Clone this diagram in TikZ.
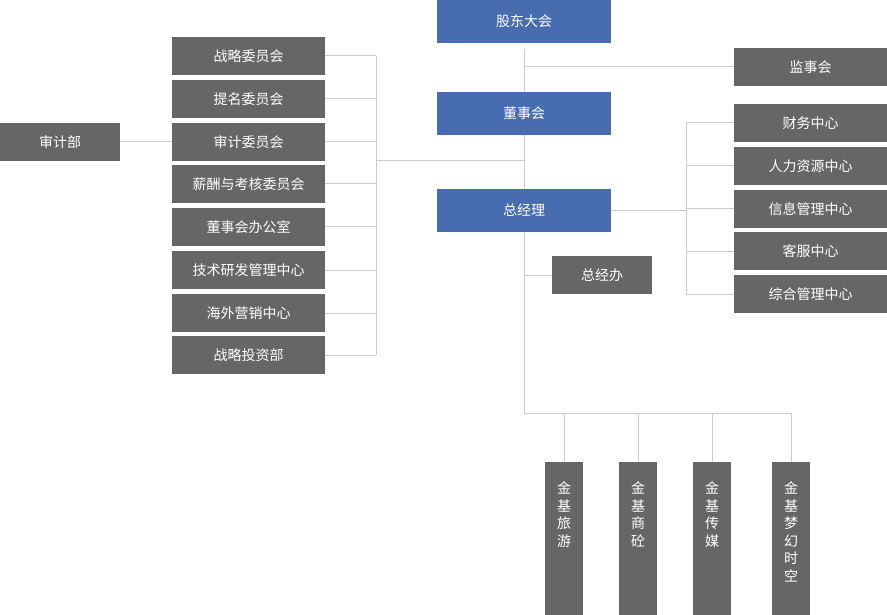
\documentclass[tikz,border=0pt]{standalone}
\usepackage{fontspec}
\usepackage{tikz}
\usetikzlibrary{positioning}
\newfontfamily\cjk{Noto Sans CJK SC}

\definecolor{boxgrey}{HTML}{666666}
\definecolor{boxblue}{HTML}{476CAF}
\definecolor{linkgrey}{HTML}{CCCCCC}

\tikzset{
  unit/.style={inner sep=0pt, outer sep=0pt, text=white,
    font=\cjk\fontsize{14}{17.5}\selectfont},
  bluebox/.style={unit, fill=boxblue, minimum width=174pt, minimum height=43pt},
  greybox/.style={unit, fill=boxgrey, minimum width=153pt, minimum height=37.5pt},
  subbox/.style={unit, fill=boxgrey, minimum width=38pt, minimum height=153pt, anchor=north},
  vtext/.style={unit, text width=14pt, align=center, anchor=north},
  link/.style={draw=linkgrey, line width=1pt}
}

\begin{document}
\begin{tikzpicture}[x=1pt,y=-1pt]
  \useasboundingbox (0,0) rectangle (887,615);

  % Main line
  \node[bluebox] (gd)  at (524,21.3)  {股东大会};
  \node[bluebox] (dsh) at (524,113.3) {董事会};
  \node[bluebox] (zjl) at (524,210.3) {总经理};

  % Supervisors
  \node[greybox] (jsh) at (810.5,67) {监事会};

  % Board committees
  \node[greybox] (wy1) at (248.5,56)  {战略委员会};
  \node[greybox] (wy2) at (248.5,99)  {提名委员会};
  \node[greybox] (wy3) at (248.5,142) {审计委员会};
  \node[greybox] (wy4) at (248.5,184) {薪酬与考核委员会};
  \node[greybox] (wy5) at (248.5,227) {董事会办公室};
  \node[greybox] (wy6) at (248.5,270) {技术研发管理中心};
  \node[greybox] (wy7) at (248.5,313) {海外营销中心};
  \node[greybox] (wy8) at (248.5,355) {战略投资部};
  \node[greybox, minimum width=120pt] (sjb) at (60,142) {审计部};

  % Centres under the general manager
  \node[greybox] (zx1) at (810.5,123) {财务中心};
  \node[greybox] (zx2) at (810.5,166) {人力资源中心};
  \node[greybox] (zx3) at (810.5,209) {信息管理中心};
  \node[greybox] (zx4) at (810.5,251) {客服中心};
  \node[greybox] (zx5) at (810.5,294) {综合管理中心};
  \node[greybox, minimum width=100pt] (zjb) at (602,275) {总经办};

  % Subsidiaries
  \node[subbox] (jj1) at (564,462) {};
  \node[subbox] (jj2) at (638,462) {};
  \node[subbox] (jj3) at (712,462) {};
  \node[subbox] (jj4) at (791,462) {};
  \node[vtext] at ([yshift=-20pt]jj1.north) {金\\基\\旅\\游};
  \node[vtext] at ([yshift=-20pt]jj2.north) {金\\基\\商\\砼};
  \node[vtext] at ([yshift=-20pt]jj3.north) {金\\基\\传\\媒};
  \node[vtext] at ([yshift=-20pt]jj4.north) {金\\基\\梦\\幻\\时\\空};

  % Connectors
  \coordinate (lbus) at (376,161);
  \coordinate (rbus) at (686,209);
  \coordinate (bbus) at (524,413);
  \draw[link] ([yshift=-6pt]gd.south) -- (dsh.north);
  \draw[link] (dsh.south) -- (zjl.north);
  \draw[link] (jsh.west) -- (jsh.west -| gd.south);
  \foreach \n in {wy1,wy2,wy3,wy4,wy5,wy6,wy7,wy8}
    \draw[link] (\n.east) -- (\n.east -| lbus);
  \draw[link] (wy1.east -| lbus) -- (wy8.east -| lbus);
  \draw[link] (lbus) -- (lbus -| dsh.south);
  \draw[link] (sjb.east) -- (wy3.west);
  \foreach \n in {zx1,zx2,zx3,zx4,zx5}
    \draw[link] (\n.west) -- (\n.west -| rbus);
  \draw[link] (zx1.west -| rbus) -- (zx5.west -| rbus);
  \draw[link] (zjl.east) -- (zjl.east -| rbus);
  \draw[link] (zjb.west) -- (zjb.west -| zjl.south);
  \draw[link] (zjl.south) -- (bbus) -| (jj4.north);
  \foreach \n in {jj1,jj2,jj3}
    \draw[link] (\n.north) -- (\n.north |- bbus);
\end{tikzpicture}
\end{document}
